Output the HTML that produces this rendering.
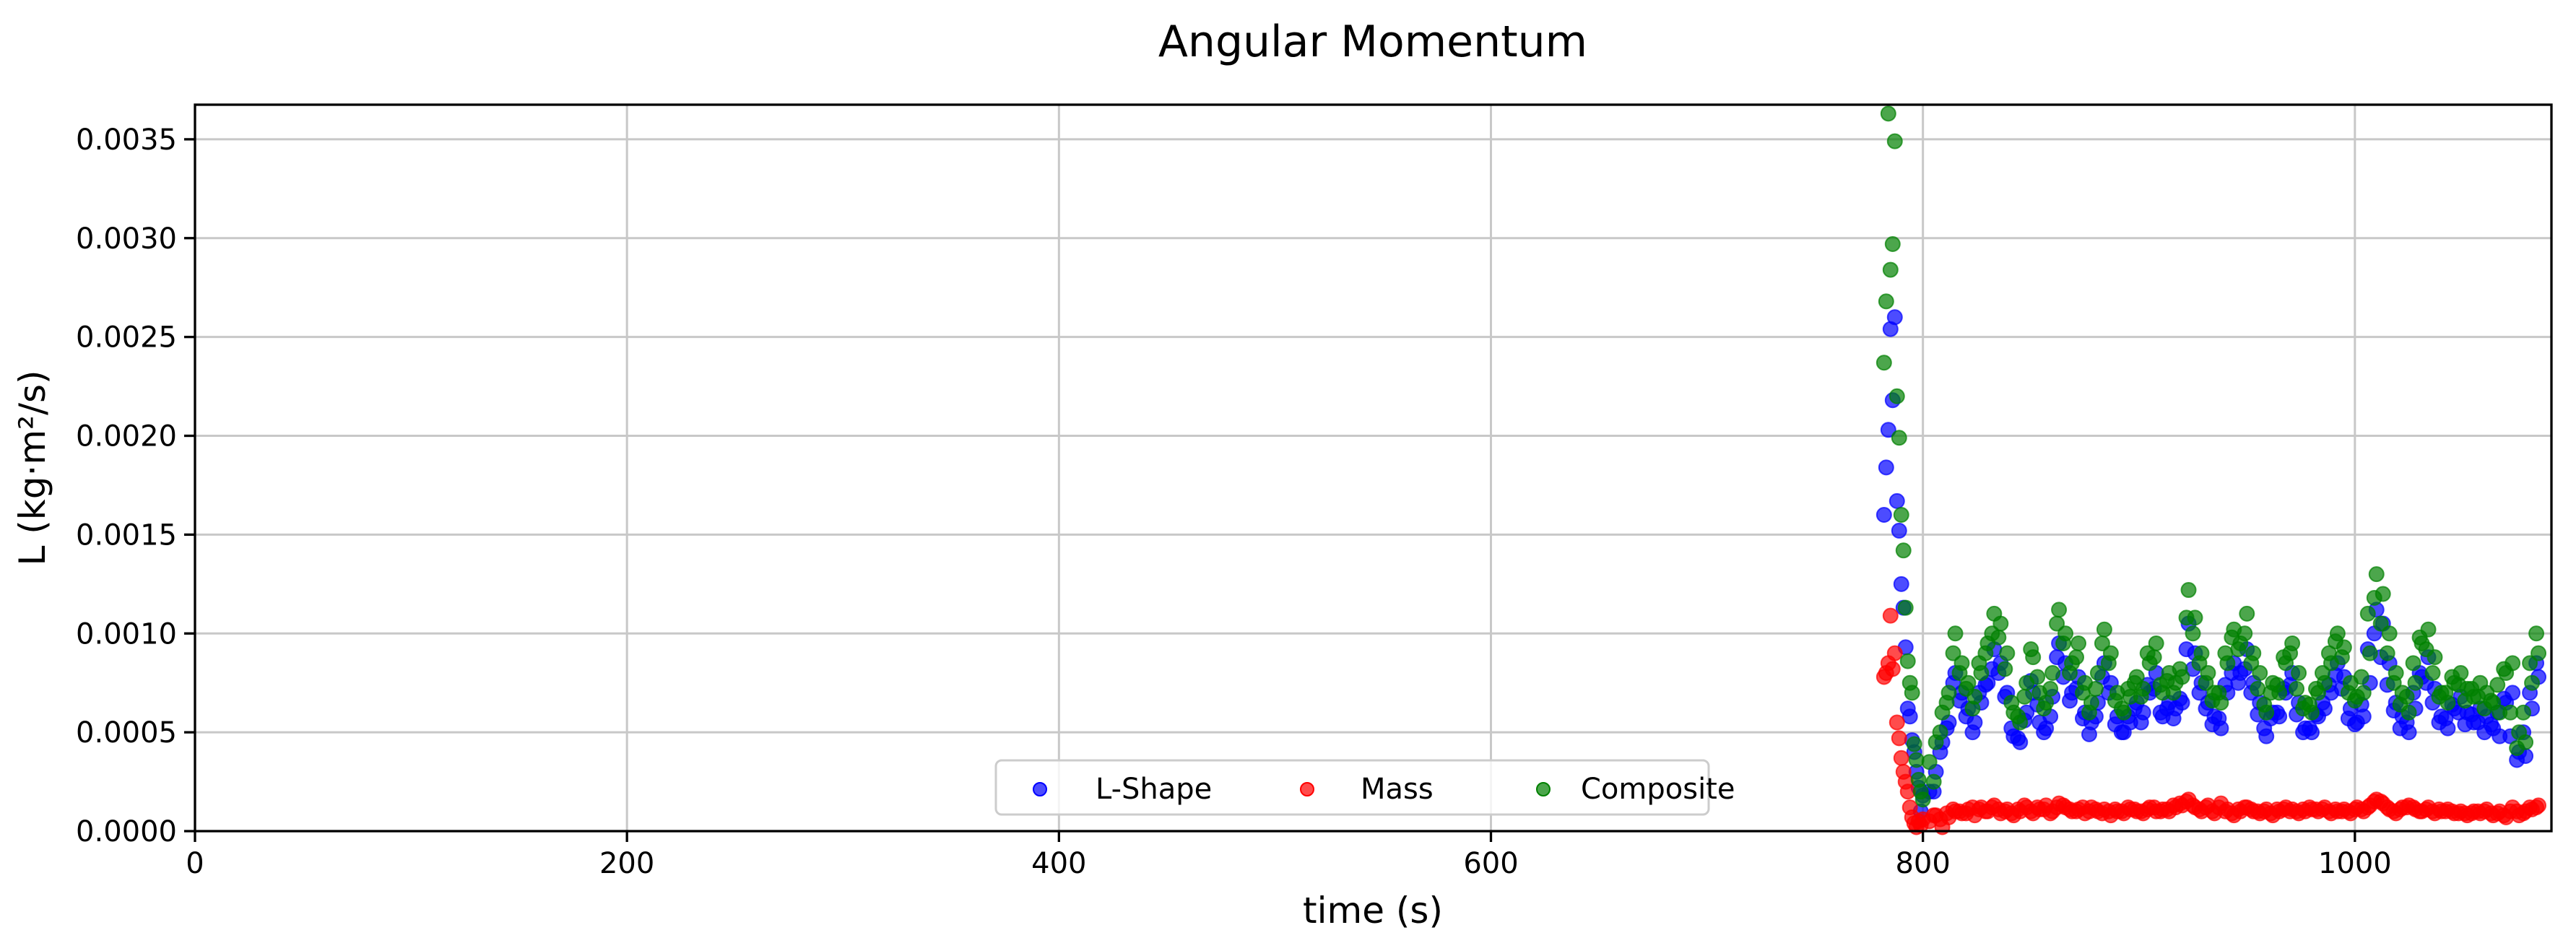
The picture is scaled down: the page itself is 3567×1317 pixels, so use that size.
<!DOCTYPE html>
<html><head><meta charset="utf-8"><style>
html,body{margin:0;padding:0;background:#fff}
svg{display:block;font-family:"DejaVu Sans","Liberation Sans",sans-serif}
</style></head><body>
<svg id="chart" width="3567" height="1317" viewBox="0 0 3567 1317">
<text x="1901" y="78" font-size="60" text-anchor="middle">Angular Momentum</text>
<g id="grid"></g>
<g id="marks"></g>
<rect x="270" y="145" width="3263" height="1006" fill="none" stroke="#000" stroke-width="3.3"/>
<g id="ticks"></g>
<text x="1901" y="1278" font-size="50" text-anchor="middle">time (s)</text>
<text transform="translate(62,648) rotate(-90)" font-size="50" text-anchor="middle">L (kg·m²/s)</text>
<g>
<rect x="1379" y="1053" width="987" height="75" rx="8" fill="#fff" fill-opacity="0.8" stroke="#ccc" stroke-width="3"/>
<circle cx="1440" cy="1093" r="9" fill="blue" fill-opacity="0.7" stroke="blue" stroke-width="2"/>
<text x="1517" y="1106" font-size="40">L-Shape</text>
<circle cx="1810" cy="1093" r="9" fill="red" fill-opacity="0.7" stroke="red" stroke-width="2"/>
<text x="1884" y="1106" font-size="40">Mass</text>
<circle cx="2137" cy="1093" r="9" fill="green" fill-opacity="0.7" stroke="green" stroke-width="2"/>
<text x="2189" y="1106" font-size="40">Composite</text>
</g>
</svg>
<script>
const times=[782,783,784,785,786,787,788,789,790,791,792,793,794,795,796,797,798,799,800,
803,806,809,812,815,818,821,824,827,830,833,836,839,842,845,848,851,854,857,860,863,866,869,872,875,878,881,884,887,890,893,896,899,902,905,908,911,914,917,920,923,926,929,932,935,938,941,944,947,950,953,956,959,962,965,968,971,974,977,980,983,986,989,992,995,998,1001,1004,1007,1010,1013,1016,1019,1022,1025,1028,1031,1034,1037,1040,1043,1046,1049,1052,1055,1058,1061,1064,1067,1070,1073,1076,1079,1082,1085,
805,808,811,814,817,820,823,826,829,832,835,838,841,844,847,850,853,856,859,862,865,868,871,874,877,880,883,886,889,892,895,898,901,904,907,910,913,916,919,922,925,928,931,934,937,940,943,946,949,952,955,958,961,964,967,970,973,976,979,982,985,988,991,994,997,1000,1003,1006,1009,1012,1015,1018,1021,1024,1027,1030,1033,1036,1039,1042,1045,1048,1051,1054,1057,1060,1063,1066,1069,1072,1075,1078,1081,1084];
const lshapeValues=[0.00160,0.00184,0.00203,0.00254,0.00218,0.00260,0.00167,0.00152,0.00125,0.00113,0.00093,0.00062,0.00058,0.00046,0.00040,0.00030,0.00022,0.00010,0.00018,
0.00020,0.00030,0.00045,0.00055,0.00080,0.00070,0.00062,0.00055,0.00065,0.00075,
0.00092,0.00085,0.00070,0.00048,0.00045,0.00060,0.00070,0.00055,0.00052,0.00068,
0.00095,0.00085,0.00070,0.00078,0.00060,0.00055,0.00065,0.00085,0.00075,0.00058,
0.00050,0.00055,0.00065,0.00060,0.00070,0.00080,0.00058,0.00065,0.00062,0.00065,
0.00105,0.00090,0.00075,0.00065,0.00058,0.00052,0.00070,0.00085,0.00080,0.00092,
0.00075,0.00065,0.00048,0.00060,0.00058,0.00070,0.00080,0.00065,0.00052,0.00050,
0.00058,0.00062,0.00070,0.00085,0.00078,0.00062,0.00055,0.00058,0.00075,0.00112,
0.00105,0.00085,0.00065,0.00058,0.00050,0.00062,0.00078,0.00088,0.00072,0.00058,
0.00052,0.00062,0.00068,0.00060,0.00055,0.00062,0.00058,0.00052,0.00048,0.00065,
0.00070,0.00040,0.00038,0.00062,0.00078,
0.00020,0.00040,0.00052,0.00075,0.00066,0.00058,0.00050,0.00070,0.00074,0.00082,
0.00080,0.00068,0.00052,0.00047,0.00056,0.00076,0.00064,0.00050,0.00058,0.00088,
0.00078,0.00066,0.00072,0.00057,0.00049,0.00058,0.00078,0.00070,0.00054,0.00050,
0.00058,0.00062,0.00055,0.00074,0.00072,0.00060,0.00062,0.00057,0.00067,0.00092,
0.00082,0.00070,0.00062,0.00054,0.00057,0.00074,0.00080,0.00075,0.00082,0.00070,
0.00059,0.00052,0.00057,0.00060,0.00072,0.00074,0.00059,0.00050,0.00052,0.00059,
0.00065,0.00074,0.00079,0.00072,0.00057,0.00054,0.00064,0.00092,0.00100,0.00088,
0.00074,0.00061,0.00052,0.00055,0.00070,0.00080,0.00075,0.00065,0.00055,0.00057,
0.00064,0.00060,0.00054,0.00059,0.00055,0.00050,0.00054,0.00060,0.00067,0.00048,
0.00036,0.00050,0.00070,0.00085];
const massValues=[0.00078,0.00080,0.00085,0.00109,0.00082,0.00090,0.00055,0.00047,0.00037,0.00030,0.00025,0.00020,0.00012,0.00007,0.00004,0.00002,0.00005,0.00003,0.00006,
0.00005,0.00008,0.00002,0.00007,0.00010,0.00009,0.00011,0.00008,0.00012,0.00010,
0.00013,0.00009,0.00011,0.00008,0.00010,0.00012,0.00009,0.00011,0.00013,0.00010,
0.00014,0.00012,0.00010,0.00011,0.00009,0.00012,0.00010,0.00011,0.00008,0.00010,
0.00009,0.00011,0.00010,0.00009,0.00012,0.00010,0.00011,0.00010,0.00012,0.00013,
0.00016,0.00012,0.00010,0.00013,0.00009,0.00014,0.00011,0.00008,0.00010,0.00012,
0.00010,0.00009,0.00011,0.00008,0.00010,0.00012,0.00011,0.00009,0.00010,0.00011,
0.00010,0.00012,0.00009,0.00010,0.00011,0.00009,0.00012,0.00010,0.00013,0.00016,
0.00014,0.00011,0.00009,0.00012,0.00013,0.00011,0.00010,0.00012,0.00009,0.00010,
0.00011,0.00009,0.00010,0.00008,0.00010,0.00009,0.00011,0.00008,0.00010,0.00007,
0.00012,0.00008,0.00010,0.00011,0.00013,
0.00008,0.00006,0.00009,0.00011,0.00010,0.00009,0.00012,0.00011,0.00010,0.00012,
0.00011,0.00010,0.00009,0.00011,0.00013,0.00010,0.00012,0.00011,0.00009,0.00012,
0.00013,0.00011,0.00010,0.00012,0.00010,0.00011,0.00009,0.00010,0.00011,0.00010,
0.00012,0.00011,0.00010,0.00011,0.00012,0.00010,0.00011,0.00013,0.00014,0.00015,
0.00013,0.00011,0.00012,0.00010,0.00012,0.00010,0.00009,0.00011,0.00012,0.00011,
0.00010,0.00010,0.00009,0.00011,0.00011,0.00010,0.00010,0.00011,0.00012,0.00011,
0.00011,0.00010,0.00011,0.00010,0.00010,0.00011,0.00011,0.00012,0.00015,0.00015,
0.00012,0.00010,0.00011,0.00012,0.00012,0.00010,0.00011,0.00010,0.00011,0.00010,
0.00010,0.00009,0.00009,0.00009,0.00010,0.00010,0.00009,0.00009,0.00008,0.00010,
0.00010,0.00009,0.00012,0.00012];
const compositeValues=[0.00237,0.00268,0.00363,0.00284,0.00297,0.00349,0.00220,0.00199,0.00160,0.00142,0.00113,0.00086,0.00075,0.00070,0.00044,0.00036,0.00026,0.00020,0.00016,
0.00035,0.00045,0.00060,0.00070,0.00100,0.00085,0.00075,0.00068,0.00080,0.00095,
0.00110,0.00105,0.00090,0.00060,0.00055,0.00075,0.00088,0.00070,0.00065,0.00080,
0.00112,0.00100,0.00085,0.00095,0.00075,0.00065,0.00080,0.00102,0.00090,0.00070,
0.00060,0.00068,0.00078,0.00072,0.00085,0.00095,0.00070,0.00080,0.00075,0.00078,
0.00122,0.00108,0.00090,0.00080,0.00070,0.00065,0.00085,0.00102,0.00095,0.00110,
0.00090,0.00080,0.00060,0.00075,0.00070,0.00085,0.00095,0.00080,0.00065,0.00060,
0.00070,0.00075,0.00085,0.00100,0.00093,0.00075,0.00068,0.00070,0.00090,0.00130,
0.00120,0.00100,0.00080,0.00070,0.00060,0.00075,0.00095,0.00102,0.00088,0.00070,
0.00065,0.00075,0.00080,0.00072,0.00068,0.00075,0.00070,0.00065,0.00060,0.00080,
0.00085,0.00050,0.00045,0.00075,0.00090,
0.00025,0.00050,0.00065,0.00090,0.00080,0.00072,0.00062,0.00085,0.00090,0.00100,
0.00098,0.00082,0.00065,0.00058,0.00068,0.00092,0.00078,0.00062,0.00072,0.00105,
0.00095,0.00080,0.00088,0.00070,0.00060,0.00072,0.00095,0.00085,0.00066,0.00062,
0.00072,0.00075,0.00068,0.00090,0.00088,0.00074,0.00076,0.00070,0.00082,0.00108,
0.00100,0.00085,0.00075,0.00066,0.00070,0.00090,0.00098,0.00092,0.00100,0.00085,
0.00072,0.00064,0.00070,0.00074,0.00088,0.00090,0.00072,0.00062,0.00064,0.00072,
0.00080,0.00090,0.00096,0.00088,0.00070,0.00066,0.00078,0.00110,0.00118,0.00105,
0.00090,0.00075,0.00064,0.00068,0.00085,0.00098,0.00092,0.00080,0.00068,0.00070,
0.00078,0.00074,0.00066,0.00072,0.00068,0.00062,0.00066,0.00074,0.00082,0.00060,
0.00042,0.00060,0.00085,0.00100];
const xTicks=[0,200,400,600,800,1000];
const yTicks=[0,0.0005,0.0010,0.0015,0.0020,0.0025,0.0030,0.0035];
const yTickLabels=["0.0000","0.0005","0.0010","0.0015","0.0020","0.0025","0.0030","0.0035"];

const NS="http://www.w3.org/2000/svg";
const X0=270,X1=3533,Y0=1151,Y1=145,XMAX=1091,YMAX=0.003675;
function xs(v){return X0+v/XMAX*(X1-X0);}
function ys(v){return Y0-v/YMAX*(Y0-Y1);}
function mk(tag,attrs,parent){const e=document.createElementNS(NS,tag);for(const k in attrs)e.setAttribute(k,attrs[k]);parent.appendChild(e);return e;}
const grid=document.getElementById('grid'),ticks=document.getElementById('ticks'),marks=document.getElementById('marks');
xTicks.forEach(t=>{
  const g=mk('line',{x1:xs(t),x2:xs(t),y1:Y1,y2:Y0,stroke:'#c8c8c8','stroke-width':3},grid);
  
  
  const tk=mk('line',{x1:xs(t),x2:xs(t),y1:Y0,y2:Y0+15,stroke:'#000','stroke-width':3.3},ticks);
  
  
  const tl=mk('text',{x:xs(t),y:Y0+58,'font-size':40,'text-anchor':'middle'},ticks);
  tl.textContent=String(t);
  
  
});
yTicks.forEach((t,i)=>{
  const g=mk('line',{x1:X0,x2:X1,y1:ys(t),y2:ys(t),stroke:'#c8c8c8','stroke-width':3},grid);
  
  
  const tk=mk('line',{x1:X0-15,x2:X0,y1:ys(t),y2:ys(t),stroke:'#000','stroke-width':3.3},ticks);
  
  
  const tl=mk('text',{x:X0-25,y:ys(t)+14,'font-size':40,'text-anchor':'end'},ticks);
  tl.textContent=yTickLabels[i];
  
  
});
function series(vals,color,name){
  const g=mk('g',{},marks);
  
  
  vals.forEach((v,i)=>{
    const c=mk('circle',{cx:xs(times[i]),cy:ys(v),r:10,fill:color,'fill-opacity':0.7,stroke:color,'stroke-opacity':0.7,'stroke-width':2},g);
    
    
  });
}
series(lshapeValues,'blue','l-shape');
series(massValues,'red','mass');
series(compositeValues,'green','composite');
</script>
</body></html>
